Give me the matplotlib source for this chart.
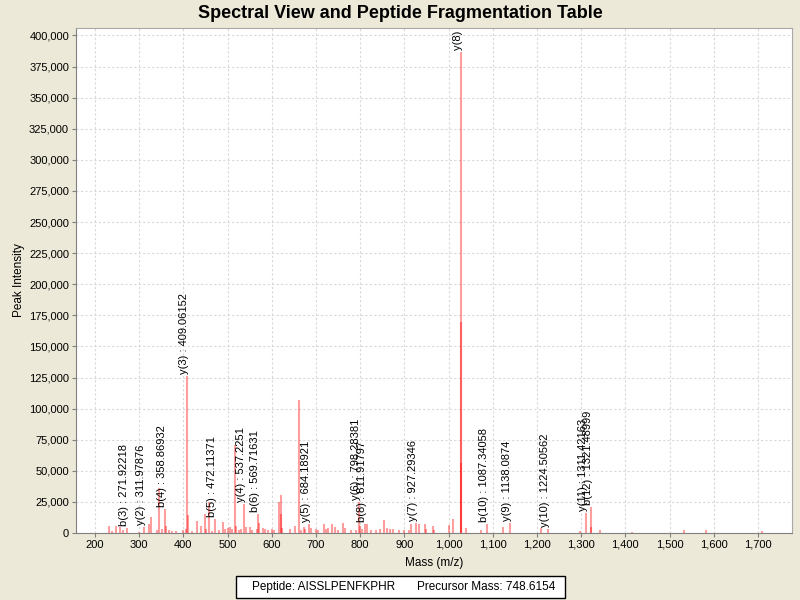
import matplotlib
matplotlib.use("Agg")
import matplotlib.pyplot as plt
from matplotlib.patches import Rectangle
from matplotlib.ticker import MultipleLocator, FuncFormatter

# peak list (m/z, intensity)
peak_mz = [231, 238, 248, 257, 263, 271.92, 300, 311.98, 322, 327, 341, 345, 352,
           358.89, 360, 368, 375, 384, 398, 405, 409.06, 411, 420, 431, 440, 448,
           452, 459, 465, 472.11, 481, 490, 495, 500, 505, 510, 517, 519, 525, 530,
           537.23, 542, 550, 556, 566, 569.72, 571, 580, 585, 592, 600, 604, 617,
           620, 621, 624, 641, 652, 661, 666, 672, 676, 684.19, 689, 699, 705, 717,
           722, 727, 736, 742, 750, 761, 765, 780, 790, 798.28, 800, 805, 811.92,
           816, 825, 835, 845, 855, 860, 868, 875, 888, 900, 910, 916, 927.29, 932,
           946, 950, 964, 968, 1002, 1010, 1028, 1028, 1029, 1039, 1074, 1087.34,
           1123, 1138.09, 1209, 1224.51, 1298, 1311.42, 1321.49, 1323, 1342, 1414,
           1533, 1582, 1709]
peak_int = [5900, 1900, 5600, 5100, 2500, 4300, 1000, 5000, 7000, 13100, 2500, 35900, 3000,
            19500, 6000, 2000, 1800, 1800, 2500, 3000, 126000, 14700, 1500, 10000, 5900, 15500,
            3000, 25200, 1500, 11500, 2500, 9100, 3000, 4000, 5000, 3000, 70800, 6000, 2500, 3500,
            23000, 5000, 4800, 2000, 3500, 15000, 8000, 4000, 3000, 2500, 3500, 2000, 24900,
            30500, 15000, 4000, 3500, 6000, 107000, 2000, 4500, 3000, 7500, 4000, 3500, 2500, 7000,
            3500, 4000, 7500, 5000, 2000, 8200, 4000, 2000, 2500, 25000, 6000, 3000, 7500,
            7000, 2000, 2500, 3000, 10500, 4000, 3500, 3000, 2500, 2000, 2500, 7000, 8000, 7000,
            7200, 3000, 5900, 2000, 6400, 11000, 387000, 170000, 56000, 4000, 2000, 7500,
            4800, 8300, 3700, 3500, 1600, 15800, 20700, 5000, 2000, 1000,
            2700, 2700, 1500]

# annotated fragment ions
ann_mz = [271.92, 311.98, 358.89, 409.06, 472.11, 537.23, 569.72, 684.19, 798.28,
          811.92, 927.29, 1028, 1087.34, 1138.09, 1224.51, 1311.42, 1321.49]
ann_int = [4300, 5000, 19500, 126000, 11500, 23000, 15000, 7500, 25000,
           7500, 8000, 387000, 7500, 8300, 3500, 15800, 20700]
ann_text = ["b(3) : 271.92218", "y(2) : 311.97876", "b(4) : 358.86932", "y(3) : 409.06152",
            "b(5) : 472.11371", "y(4) : 537.2251", "b(6) : 569.71631", "y(5) : 684.18921",
            "y(6) : 798.28381", "b(8) : 811.91797", "y(7) : 927.29346", "y(8) :",
            "b(10) : 1087.34058", "y(9) : 1138.0874", "y(10) : 1224.50562",
            "y(11) : 1311.42163", "b(12) : 1321.48999"]

peptide = "AISSLPENFKPHR"
precursor = "748.6154"

plt.rcParams['font.family'] = ['Liberation Sans', 'DejaVu Sans']

fig = plt.figure(figsize=(8, 6), dpi=100, facecolor='#ECE9D8')
ax = fig.add_axes([0.095, 0.1117, 0.895, 0.8416])
ax.set_facecolor('white')

ax.vlines(peak_mz, 0, peak_int, colors='red', alpha=0.38, linewidth=1.5)

for x, y, t in zip(ann_mz, ann_int, ann_text):
    ax.annotate(t, (x, y), xytext=(-2.2, 1.5), textcoords='offset points',
                rotation=90, ha='center', va='bottom', fontsize=8, clip_on=True)

ax.set_xlim(157, 1777)
ax.set_ylim(0, 406000)
ax.xaxis.set_major_locator(MultipleLocator(100))
ax.yaxis.set_major_locator(MultipleLocator(25000))
fmt = FuncFormatter(lambda v, p: f"{int(v):,}")
ax.xaxis.set_major_formatter(fmt)
ax.yaxis.set_major_formatter(fmt)
ax.tick_params(labelsize=8, length=3, width=0.8, color='#808080', pad=2)

ax.grid(True, color='#D8D8D8', linestyle=(0, (2, 2)), linewidth=0.8)
ax.set_axisbelow(True)
for s in ['top', 'right']:
    ax.spines[s].set_color('#A8A8A8')
for s in ['left', 'bottom']:
    ax.spines[s].set_color('#808080')

ax.set_xlabel("Mass (m/z)", fontsize=8.5, labelpad=5)
ax.set_ylabel("Peak Intensity", fontsize=8.5, labelpad=3)
fig.text(0.5, 0.977, "Spectral View and Peptide Fragmentation Table",
         ha='center', va='center', fontsize=13, fontweight='bold')

# info box under the chart
fig.patches.append(Rectangle((236 / 800, 1 - 598 / 600), 329 / 800, 22 / 600,
                             transform=fig.transFigure, facecolor='white',
                             edgecolor='black', linewidth=1))
fig.text(252 / 800, 1 - 587 / 600, "Peptide: " + peptide, ha='left', va='center', fontsize=8.5)
fig.text(417 / 800, 1 - 587 / 600, "Precursor Mass: " + precursor, ha='left', va='center', fontsize=8.5)

fig.savefig("out.png", dpi=100, facecolor=fig.get_facecolor())
